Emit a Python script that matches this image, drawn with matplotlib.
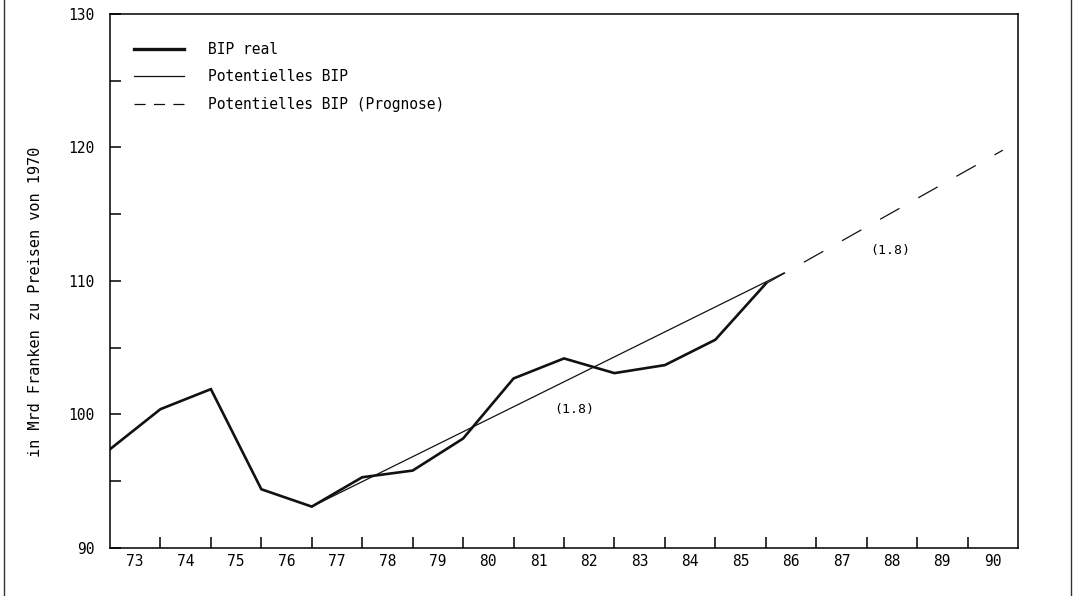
import matplotlib
matplotlib.use("Agg")
import matplotlib.pyplot as plt
from matplotlib.lines import Line2D
import numpy as np

# ---- data ----
years = ['73', '74', '75', '76', '77', '78', '79', '80', '81',
         '82', '83', '84', '85', '86', '87', '88', '89', '90']
# BIP real, plotted at year boundaries (index 0 = left edge)
real_bip = [97.4, 100.4, 101.9, 94.4, 93.1, 95.3, 95.8, 98.2, 102.7,
            104.2, 103.1, 103.7, 105.6, 109.8]
real_pos = list(range(len(real_bip)))
pot_pos = [4.0, 13.36]
pot_bip = [93.1, 110.6]
prog_pos = [13.0, 17.7]
prog_bip = [109.8, 119.8]
growth_labels = ['(1.8)', '(1.8)']
growth_pos = [(9.2, 100.4), (15.47, 112.3)]
yticks = [90, 100, 110, 120, 130]
yminor = [95, 105, 115, 125]

plt.rcParams['lines.scale_dashes'] = False
FONT = 'DejaVu Sans Mono'
fig = plt.figure(figsize=(10.74, 5.96), dpi=100)
W, H = 1074, 596
ax = fig.add_axes([110 / W, 1 - 548 / H, 908 / W, 534 / H])

ax.plot(real_pos, real_bip, color='#111111', lw=1.9, solid_joinstyle='miter')
ax.plot(pot_pos, pot_bip, color='#111111', lw=0.9)
ax.plot(prog_pos, prog_bip, color='#111111', lw=0.9, dashes=(16, 15.5))

for lab, (px, py) in zip(growth_labels, growth_pos):
    ax.text(px, py, lab, family=FONT, fontsize=9.5, ha='center', va='center')

ax.set_xlim(0, len(years))
ax.set_ylim(90, 130)
ax.set_yticks(yticks)
ax.set_yticks(yminor, minor=True)
ax.set_yticklabels([str(v) for v in yticks], family=FONT, fontsize=10.5)
ax.set_xticks(np.arange(1, len(years)))
ax.set_xticklabels([])
ax.set_xticks(np.arange(len(years)) + 0.5, minor=True)
ax.set_xticklabels(years, minor=True, family=FONT, fontsize=10.5)
ax.tick_params(axis='x', which='major', direction='in', length=8, width=1.1)
ax.tick_params(axis='x', which='minor', length=0, pad=4)
ax.tick_params(axis='y', which='both', direction='in', length=8, width=1.1, pad=11)
for s in ax.spines.values():
    s.set_linewidth(1.1)

ax.set_ylabel('in Mrd Franken zu Preisen von 1970', family=FONT, fontsize=11)
ax.yaxis.set_label_coords(-67 / 908, (548 - 302) / 534)

handles = [Line2D([], [], color='#111111', lw=2.4),
           Line2D([], [], color='#111111', lw=0.9),
           Line2D([], [], color='#111111', lw=0.9, dashes=(8, 6))]
labels = ['BIP real', 'Potentielles BIP', 'Potentielles BIP (Prognose)']
ax.legend(handles, labels, loc='upper left', frameon=False,
          bbox_to_anchor=(24 / 908, (548 - 42) / 534), borderaxespad=0,
          borderpad=0, handlelength=3.4, handletextpad=1.7, labelspacing=0.85,
          prop={'family': FONT, 'size': 10.5})

# page border lines from the scan
fig.add_artist(Line2D([4 / W, 4 / W], [0, 1], color='#333333', lw=1.0))
fig.add_artist(Line2D([1071 / W, 1071 / W], [0, 1], color='#333333', lw=1.0))

fig.savefig('out.png', dpi=100)
